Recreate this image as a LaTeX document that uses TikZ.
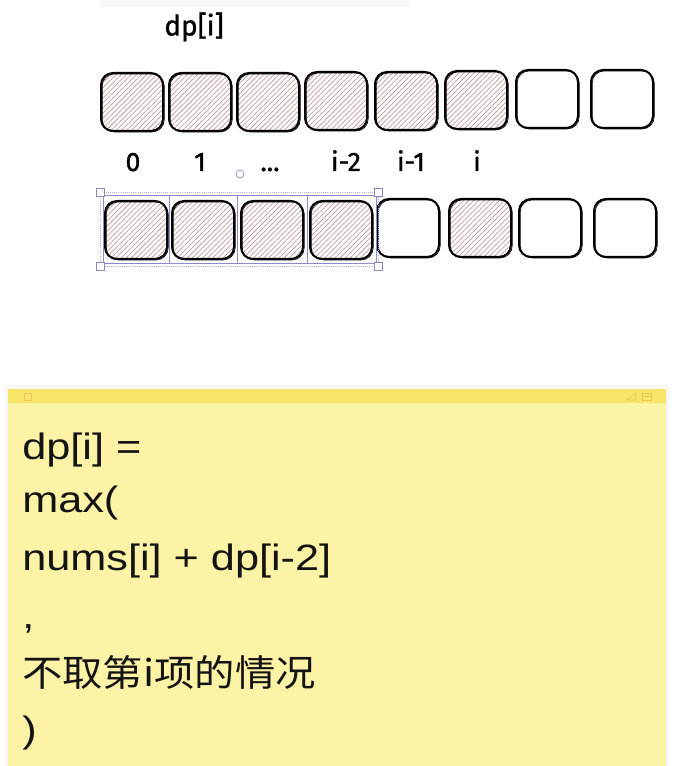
\documentclass[tikz,border=0pt]{standalone}
\usepackage{fontspec}
\setmainfont{Liberation Sans}[FakeStretch=1.18]
\newfontfamily\cjk{Noto Sans CJK SC}[FakeStretch=1.1]
\newfontfamily\hand{Fira Sans}[FakeBold=1.2]
\usetikzlibrary{patterns.meta}
\definecolor{hatch}{RGB}{195,155,155}
\definecolor{notebody}{RGB}{252,243,166}
\definecolor{notebar}{RGB}{248,228,102}
\definecolor{selblue}{RGB}{140,140,205}
\definecolor{ink}{RGB}{20,20,20}

\begin{document}
\begin{tikzpicture}[x=0.75pt,y=-0.75pt,
    cell/.style={shape=rectangle,draw=black,line width=1.5pt,rounded corners=9pt,
      minimum width=46.5pt,minimum height=43.5pt,inner sep=0pt,
      postaction={draw,line width=0.5pt,transform canvas={xshift=0.9pt,yshift=-0.7pt}}},
    hatched/.style={pattern={Lines[angle=45,distance=2.7pt,line width=0.55pt]},pattern color=hatch},
    idx/.style={font=\hand\fontsize{20}{22}\selectfont,anchor=base},
    notetext/.style={anchor=base west,inner sep=0pt,text=ink,font=\fontsize{27.5}{33}\selectfont},
    handle/.style={draw=selblue!80!gray,fill=white,line width=0.5pt}]
    \useasboundingbox (0,0) rectangle (674,766);
    \fill[black!3] (100,0) rectangle (410,7);

    \node[font=\hand\fontsize{21}{23}\selectfont] (title) at (194,27) {dp[i]};

    % top row
    \node[cell,hatched] (t1) at (132,102) {};
    \node[cell,hatched] (t2) at (200,102) {};
    \node[cell,hatched] (t3) at (268,102) {};
    \node[cell,hatched] (t4) at (336,101) {};
    \node[cell,hatched] (t5) at (406,101) {};
    \node[cell,hatched] (t6) at (476,100) {};
    \node[cell] (t7) at (547,99) {};
    \node[cell] (t8) at (622,99) {};

    \node[idx] (l0) at (133,171) {0};
    \node[idx] (l1) at (200,171) {1};
    \node[idx] (l2) at (270,171) {...};
    \node[idx] (l3) at (346,171) {i-2};
    \node[idx] (l4) at (411,171) {i-1};
    \node[idx] (l5) at (477,171) {i};

    % bottom row
    \node[cell,hatched] (b1) at (136,230) {};
    \node[cell,hatched] (b2) at (203,230) {};
    \node[cell,hatched] (b3) at (272,230) {};
    \node[cell,hatched] (b4) at (341,230) {};
    \node[cell] (b5) at (408,228) {};
    \node[cell,hatched] (b6) at (480,228) {};
    \node[cell] (b7) at (550,228) {};
    \node[cell] (b8) at (625,228) {};

    % selection
    \draw[selblue!70!white,line width=0.6pt,densely dotted] (100,192) rectangle (378,266);
    \draw[selblue,line width=0.4pt] (103,195) rectangle (169,263) (169,195) rectangle (237,263)
      (237,195) rectangle (307,263) (307,195) rectangle (376,263);
    \draw[handle] (96,188) rectangle (104,196);
    \draw[handle] (374,188) rectangle (382,196);
    \draw[handle] (96,262) rectangle (104,270);
    \draw[handle] (374,262) rectangle (382,270);
    \draw[handle] (240,174) circle (4);

    % note
    \fill[black!3] (5,385) rectangle (669,766);
    \fill[notebody] (8,389) rectangle (666,766);
    \fill[notebar] (8,389) rectangle (666,403);
    \draw[notebar!70!brown,line width=0.4pt] (24,393) rectangle (31,400);
    \draw[notebar!70!brown,line width=0.4pt] (626,400) -- (636,393) -- (636,400) -- cycle;
    \draw[notebar!70!brown,line width=0.4pt] (642,393) rectangle (651,400) (642,396.5) -- (651,396.5);

    \node[notetext] (line1) at (22,459) {dp[i] =};
    \node[notetext] (line2) at (22,512) {max(};
    \node[notetext] (line3) at (22,570) {nums[i] + dp[i-2]};
    \node[notetext] (line4) at (22,628) {,};
    \node[notetext,font=\cjk\fontsize{27.5}{33}\selectfont] (line5) at (22,686) {不取第i项的情况};
    \node[notetext] (line6) at (22,742) {)};
\end{tikzpicture}
\end{document}
